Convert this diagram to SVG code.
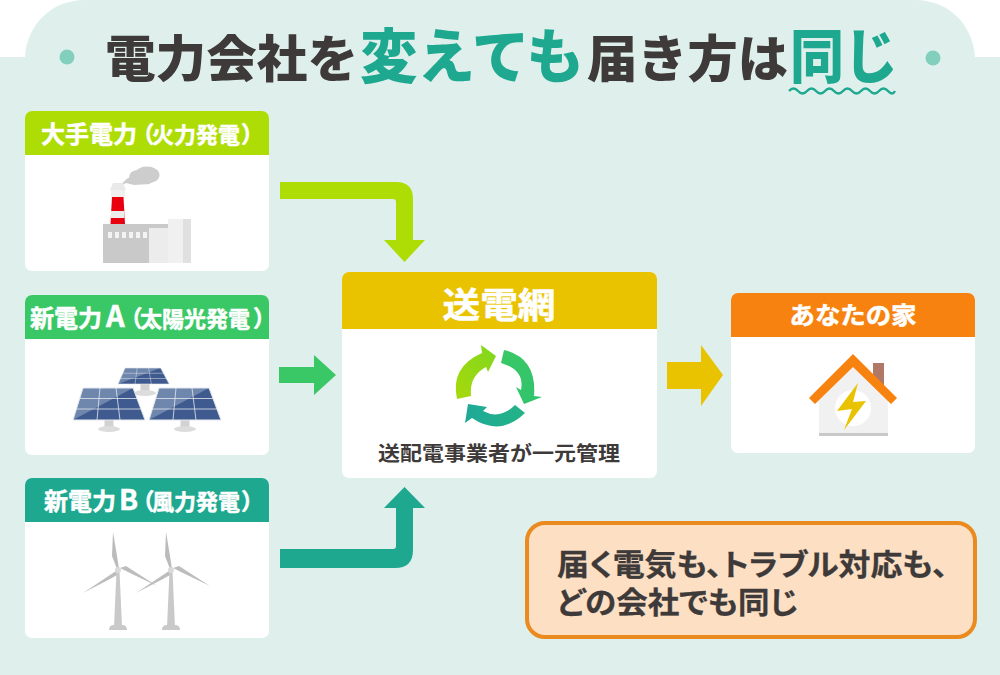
<svg xmlns="http://www.w3.org/2000/svg" width="1000" height="675" viewBox="0 0 1000 675">
<style>
text{font-family:"Noto Sans CJK JP","Noto Sans",sans-serif;font-weight:700}
.h{fill:#fff;stroke:#fff;stroke-width:.5}
.p{font-feature-settings:"palt";font-size:23px}
.c{text-anchor:middle}
.d{fill:#3e3a39}
.g{fill:#1da88f}
.t{font-weight:900}
.card{fill:#fff}
.n{font-feature-settings:"palt";stroke:#3e3a39;stroke-width:.3}
</style>
<defs>
<linearGradient id="rg1" x1="0" y1="1" x2="1" y2="0"><stop offset="0" stop-color="#a8d90a"/><stop offset="1" stop-color="#7fd71f"/></linearGradient>
<linearGradient id="rg2" x1="0" y1="0" x2="0.6" y2="1"><stop offset="0" stop-color="#3ac866"/><stop offset="1" stop-color="#32c46c"/></linearGradient>
<linearGradient id="rg3" x1="0" y1="0" x2="1" y2="0"><stop offset="0" stop-color="#1fa998"/><stop offset="1" stop-color="#23b386"/></linearGradient>
<g id="panel"><path d="M10-32H60L72 0H0Z" fill="#6f86ad"/><path d="M0 0L60-32 72 0Z" fill="#3f5a8e"/><path d="M10-32H60L72 0H0Z" fill="none" stroke="#e4e8ef" stroke-width="1"/><path d="M6.500-21.500H64M3-11H68M27-32L24 0M43-32L47 0" stroke="#e4e8ef" stroke-width=".8" fill="none"/></g>
<g id="stand"><rect x="-4.500" y="0" width="9" height="8" fill="#d2d2d2"/><ellipse cx="0" cy="9" rx="11" ry="3" fill="#dcdcdc"/></g>
<g id="turbine"><path d="M-1.500 1H1.500L4 57H-4Z" fill="#c9c9c9"/><path d="M-9 60Q-9 55 -4 55H4Q9 55 9 60Z" fill="#c9c9c9"/><path d="M-5-38L-6-14-1-1H1L-1-14Z" fill="#bbb"/><path d="M2-2L8-4 39 16 12 3Z" fill="#bdbdbd"/><path d="M-2 1L-35 23-8 9-1 5Z" fill="#bdbdbd"/><circle cx="0" cy="0" r="3" fill="#dadada"/></g>
</defs>
<rect id="bg" width="1000" height="675" fill="#fff"/>
<path d="M0 57H25C27 24 52 0 85 0H915C948 0 973 24 975 57H1000V675H0Z" fill="#dff0ec"/>

<g id="title">
<circle cx="67" cy="57" r="7.500" fill="#83cfbe"/><circle cx="933" cy="58" r="7.500" fill="#83cfbe"/>
<text class="d t" x="105" y="77" font-size="50" textLength="253" lengthAdjust="spacingAndGlyphs">電力会社を</text>
<text class="g t" x="360" y="78" font-size="59" textLength="224" lengthAdjust="spacingAndGlyphs">変えても</text>
<text class="d t" x="587" y="77" font-size="50" textLength="201" lengthAdjust="spacingAndGlyphs">届き方は</text>
<text class="g t" x="790" y="78" font-size="59" textLength="108" lengthAdjust="spacingAndGlyphs">同じ</text>
<path d="M789 91q4.500-5 9 0t9 0 9 0 9 0 9 0 9 0 9 0 9 0 9 0 9 0 9 0 7 0" fill="none" stroke="#1da88f" stroke-width="2.400"/>
</g>

<g id="connectors">
<path d="M280 182H396Q413 182 413 199V240H425L404.500 262 384 240H396V202Q396 199 393 199H280Z" fill="#aedc05"/>
<path d="M279 367H314V355L336 375 314 395V383H279Z" fill="#3ac866"/>
<path d="M280 549H393Q396 549 396 546V508H384L404.500 487 425 508H413V550Q413 568 395 568H280Z" fill="#1da88f"/>
<path d="M667 362H701V345L723 375 701 406V389H667Z" fill="#e9c300"/>
</g>

<g id="n1">
<rect class="card" x="25" y="111" width="244" height="160" rx="7"/>
<path d="M25 155V118a7 7 0 0 1 7-7H262a7 7 0 0 1 7 7V155Z" fill="#aedc05"/>
<text class="h" y="143" font-size="24"><tspan x="41">大手電力</tspan><tspan class="p" x="142">（</tspan><tspan x="152" font-size="22">火力発電</tspan><tspan class="p" x="242">）</tspan></text>
<g fill="#cdcdcd"><path d="M121 186Q126 176 136 176L150 176 150 184 134 185 126 183Z"/><ellipse cx="147" cy="175" rx="12.500" ry="8.500"/><ellipse cx="138" cy="177" rx="9" ry="7"/></g>
<path d="M113 183H123L126 190H110Z" fill="#e9e9e9"/><path d="M111 190H125V197H111Z" fill="#f0f0f0"/>
<path d="M112 197H123.500L125 224H110.500Z" fill="#e8000f"/>
<path d="M111 211H124.500V218H110.500Z" fill="#ececec"/>
<rect x="103" y="224" width="65" height="39" fill="#c9c9c9"/>
<rect x="149" y="228" width="19" height="35" fill="#ececec"/>
<rect x="168" y="219" width="15" height="44" fill="#f0f0f0"/>
<rect x="183" y="219" width="8" height="44" fill="#e0e0e0"/>
<g fill="#f3f3f3"><rect x="108" y="232" width="4" height="6"/><rect x="115" y="232" width="4" height="6"/><rect x="122" y="232" width="4" height="6"/><rect x="129" y="232" width="4" height="6"/><rect x="136" y="232" width="4" height="6"/><rect x="143" y="232" width="4" height="6"/></g>
</g>

<g id="n2">
<rect class="card" x="25" y="295" width="244" height="160" rx="7"/>
<path d="M25 339V302a7 7 0 0 1 7-7H262a7 7 0 0 1 7 7V339Z" fill="#3ac866"/>
<text class="h" y="327" font-size="24"><tspan x="30">新電力</tspan><tspan x="106" font-size="29">A</tspan><tspan class="p" x="130">（</tspan><tspan x="140" font-size="22">太陽光発電</tspan><tspan class="p" x="254">）</tspan></text>
<use href="#stand" x="145" y="384"/>
<use href="#panel" transform="translate(118 384) scale(.71 .5)"/>
<use href="#stand" x="109" y="420"/>
<use href="#panel" x="73" y="420"/>
<use href="#stand" x="185" y="420"/>
<use href="#panel" x="149" y="420"/>
</g>

<g id="n3">
<rect class="card" x="25" y="478" width="244" height="160" rx="7"/>
<path d="M25 522V485a7 7 0 0 1 7-7H262a7 7 0 0 1 7 7V522Z" fill="#1da88f"/>
<text class="h" y="510" font-size="24"><tspan x="44">新電力</tspan><tspan x="119" font-size="28">B</tspan><tspan class="p" x="142">（</tspan><tspan x="152" font-size="22">風力発電</tspan><tspan class="p" x="242">）</tspan></text>
<use href="#turbine" x="118" y="570"/>
<use href="#turbine" x="171" y="570"/>
</g>

<g id="n4">
<rect class="card" x="342" y="272" width="315" height="206" rx="7"/>
<path d="M342 329V279a7 7 0 0 1 7-7H650a7 7 0 0 1 7 7V329Z" fill="#e9c300"/>
<text class="h c" x="499" y="318" font-size="35" textLength="113" lengthAdjust="spacingAndGlyphs">送電網</text>
<path d="M457 399Q450 367 482 353L481 345 496 356 488 372 486 367Q469 376 471 396Z" fill="url(#rg1)"/>
<path d="M504 350Q537 358 534 396L542 397 524 404 516 387 521 390Q525 370 501 363Z" fill="url(#rg2)"/>
<path d="M465 423L468 404 487 407 483 411Q500 420 515 405L525 413Q500 437 472 418Z" fill="url(#rg3)"/>
<text x="499" y="461" font-size="20" class="d c" textLength="242" lengthAdjust="spacingAndGlyphs">送配電事業者が一元管理</text>
</g>

<g id="n5">
<rect class="card" x="731" y="293" width="244" height="160" rx="7"/>
<path d="M731 337V300a7 7 0 0 1 7-7H968a7 7 0 0 1 7 7V337Z" fill="#f7820f"/>
<text class="h c" x="853" y="324" font-size="24" textLength="127" lengthAdjust="spacingAndGlyphs">あなたの家</text>
<rect x="873" y="363" width="11" height="26" fill="#b07866"/>
<path d="M819 400L853 366 888 400V434H819Z" fill="#f1f1f1"/>
<circle cx="853" cy="408" r="18" fill="#fff"/>
<rect x="819" y="433" width="69" height="3" fill="#c9c9c9"/>
<path d="M853 354L897 398 891 404 853 367 815 404 809 398Z" fill="#f7820f"/>
<path d="M858 383L837 411 852 409 844 430 866 401 853 402Z" fill="#e9c300"/>
</g>

<g id="note">
<rect x="527" y="523" width="448" height="114" rx="18" fill="#fde0c4" stroke="#ea8a1f" stroke-width="4"/>
<text class="d n" x="557" y="575" font-size="30" textLength="391" lengthAdjust="spacingAndGlyphs">届く電気も、トラブル対応も、</text>
<text class="d n" x="557" y="613" font-size="30" textLength="241" lengthAdjust="spacingAndGlyphs">どの会社でも同じ</text>
</g>
</svg>
